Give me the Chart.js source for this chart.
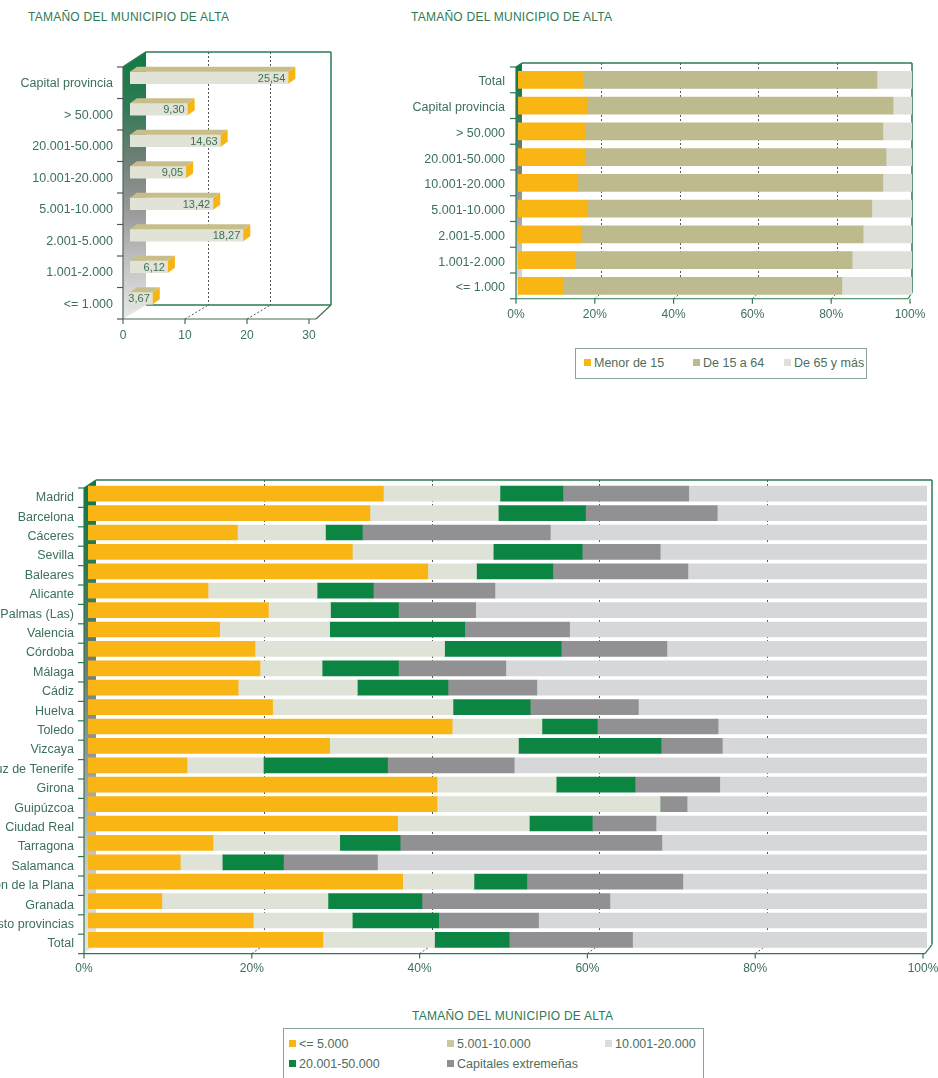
<!DOCTYPE html>
<html><head><meta charset="utf-8">
<script src="https://cdn.jsdelivr.net/npm/chart.js@4"></script>
<style>
body{margin:0;background:#fff;width:938px;height:1078px;overflow:hidden;position:relative;font-family:"Liberation Sans",Arial,sans-serif;}
.title{position:absolute;font-size:12px;color:#2f7a55;letter-spacing:0.25px;white-space:nowrap;line-height:14px;}
canvas{position:absolute;}
.legend{position:absolute;border:1px solid #8aa595;background:#fff;}
.li{position:absolute;font-size:12.5px;color:#4f6d5b;white-space:nowrap;line-height:14px;}
.sw{display:inline-block;width:7px;height:7px;margin-right:3px;vertical-align:1px;}
</style></head><body>
<div class="title" style="left:28px;top:10px">TAMAÑO DEL MUNICIPIO DE ALTA</div>
<div class="title" style="left:411px;top:10px">TAMAÑO DEL MUNICIPIO DE ALTA</div>
<canvas id="c1" width="340" height="310" style="left:0;top:40px"></canvas>
<canvas id="c2" width="538" height="300" style="left:400px;top:40px"></canvas>
<div class="legend" style="left:575px;top:348px;width:290px;height:29px">
  <div class="li" style="left:8px;top:7px"><span class="sw" style="background:#f8b514"></span>Menor de 15</div>
  <div class="li" style="left:117px;top:7px"><span class="sw" style="background:#bdba8d"></span>De 15 a 64</div>
  <div class="li" style="left:208px;top:7px"><span class="sw" style="background:#dedfd8"></span>De 65 y más</div>
</div>
<canvas id="c3" width="938" height="510" style="left:0;top:470px"></canvas>
<div class="title" style="left:412px;top:1009px">TAMAÑO DEL MUNICIPIO DE ALTA</div>
<div class="legend" style="left:283px;top:1028px;width:419px;height:70px">
  <div class="li" style="left:5px;top:8px"><span class="sw" style="background:#f8b514"></span>&lt;= 5.000</div>
  <div class="li" style="left:163px;top:8px"><span class="sw" style="background:#c9c79f"></span>5.001-10.000</div>
  <div class="li" style="left:321px;top:8px"><span class="sw" style="background:#dcdcdc"></span>10.001-20.000</div>
  <div class="li" style="left:5px;top:28px"><span class="sw" style="background:#0d8542"></span>20.001-50.000</div>
  <div class="li" style="left:163px;top:28px"><span class="sw" style="background:#8f8f92"></span>Capitales extremeñas</div>
</div>
<script>
// ---------- DATA ----------
const sizeCategories = ['Capital provincia','> 50.000','20.001-50.000','10.001-20.000','5.001-10.000','2.001-5.000','1.001-2.000','<= 1.000'];
const sizeShares = [25.54, 9.30, 14.63, 9.05, 13.42, 18.27, 6.12, 3.67];
const sizeTickLabels = ['0','10','20','30'];

const ageCategories = ['Total','Capital provincia','> 50.000','20.001-50.000','10.001-20.000','5.001-10.000','2.001-5.000','1.001-2.000','<= 1.000'];
const ageUnder15 = [16.5, 17.5, 17.0, 17.0, 15.2, 17.5, 16.2, 14.5, 11.4];
const age15to64 = [74.6, 77.7, 75.6, 76.4, 77.4, 72.3, 71.4, 70.3, 70.8];
const age65plus = [8.9, 4.8, 7.4, 6.6, 7.4, 10.2, 12.4, 15.2, 17.8];
const pctTickLabels = ['0%','20%','40%','60%','80%','100%'];

const provinces = ['Madrid','Barcelona','Cáceres','Sevilla','Baleares','Alicante','Palmas (Las)','Valencia','Córdoba','Málaga','Cádiz','Huelva','Toledo','Vizcaya','Santa Cruz de Tenerife','Girona','Guipúzcoa','Ciudad Real','Tarragona','Salamanca','Castellón de la Plana','Granada','Resto provincias','Total'];
const upTo5000 = [35.2,33.6,17.8,31.5,40.5,14.3,21.5,15.7,19.9,20.5,17.9,22.0,43.4,28.8,11.8,41.6,41.6,36.9,14.9,11.0,37.5,8.8,19.7,28.0];
const from5001to10000 = [13.9,15.3,10.5,16.8,5.8,13.0,7.4,13.1,22.6,7.4,14.2,21.5,10.7,22.5,9.1,14.2,26.6,15.7,15.1,5.0,8.5,19.8,11.8,13.3];
const from20001to50000 = [7.5,10.4,4.4,10.6,9.1,6.7,8.1,16.1,13.9,9.1,10.8,9.2,6.6,17.0,14.8,9.4,0,7.5,7.2,7.3,6.3,11.2,10.3,8.9];
const capitalesExtremenas = [15.0,15.7,22.4,9.3,16.1,14.5,9.2,12.5,12.6,12.8,10.6,12.9,14.4,7.3,15.1,10.1,3.2,7.6,31.2,11.2,18.6,22.4,11.9,14.7];
const from10001to20000 = [28.4,25.0,44.9,31.8,28.5,51.5,53.8,42.6,31.0,50.2,46.5,34.4,24.9,24.4,49.2,24.7,28.6,32.3,31.6,65.5,29.1,37.8,46.3,35.1];

// ---------- STYLE ----------
Chart.defaults.font.family = '"Liberation Sans", Arial, sans-serif';
Chart.defaults.color = '#3c7058';
Chart.defaults.animation = false;
const TXT = '#3c7058', FRAME = '#2a7a52';
const wallStops = [[0,'#0d7a44'],[0.2,'#2f7a55'],[0.4,'#6f7f77'],[0.6,'#9a9a9a'],[0.8,'#c4c4c4'],[1,'#e8e8e8']];

function line(ctx,x0,y0,x1,y1){ctx.beginPath();ctx.moveTo(x0,y0);ctx.lineTo(x1,y1);ctx.stroke();}
function poly(ctx,pts){ctx.beginPath();ctx.moveTo(pts[0][0],pts[0][1]);for(let i=1;i<pts.length;i++)ctx.lineTo(pts[i][0],pts[i][1]);ctx.closePath();ctx.fill();}
function wall(ctx,x0,x1,yTF,yTB,yBB,yBF){
  const g=ctx.createLinearGradient(0,yTB,0,yBF);
  wallStops.forEach(s=>g.addColorStop(s[0],s[1]));
  ctx.fillStyle=g; poly(ctx,[[x0,yTF],[x1,yTB],[x1,yBB],[x0,yBF]]);
}
// generic 3D box decoration
function boxDeco(id, o){
  return {
    id,
    beforeDatasetsDraw(chart){
      const {ctx, chartArea:a, scales:{x}} = chart;
      const n = chart.data.labels.length;
      ctx.save();
      const bL = x.getPixelForValue(o.min)+o.back, bR = x.getPixelForValue(o.max)+o.backR;
      const bT = a.top-o.topUp, bB = a.bottom-o.botUp;
      const fY = a.bottom+o.frontDown, fL = x.getPixelForValue(o.min)-o.frontLeft, fR = x.getPixelForValue(o.max)-o.frontRightIn;
      wall(ctx,fL,bL,a.top+o.frontDown,bT,bB,fY);
      ctx.setLineDash([2,2]); ctx.strokeStyle='#555'; ctx.lineWidth=1;
      o.grid.forEach(v=>{const px=Math.round(x.getPixelForValue(v)+o.back)+0.5; line(ctx,px,bT,px,bB); line(ctx,x.getPixelForValue(v)-o.frontLeft,fY,px,bB);});
      ctx.setLineDash([]);
      ctx.strokeStyle=FRAME; ctx.lineWidth=1.5;
      line(ctx,bL,bT,bR,bT); line(ctx,bR,bT,bR,bB); line(ctx,fL,a.top+o.frontDown,bL,bT);
      if(o.backBottom) line(ctx,bL,bB,bR,bB);
      ctx.strokeStyle=o.axisColor; ctx.lineWidth=1.2;
      line(ctx,fL,fY,fR,fY); line(ctx,fR,fY,bR,bB); line(ctx,fL,a.top+o.frontDown,fL,fY);
      o.ticks.forEach(v=>{const px=x.getPixelForValue(v)-o.frontLeft; line(ctx,px,fY,px,fY+5);});
      ctx.strokeStyle=o.catTickColor; ctx.lineWidth=1.2;
      for(let i=0;i<=n;i++){const yb=a.top+i*a.height/n+o.frontDown; line(ctx,fL-6,yb,fL,yb);}
      ctx.restore();
    }
  };
}

// ---------- CHART 1 ----------
const deco1 = boxDeco('deco1',{min:0,max:30,back:16,backR:15,topUp:10,botUp:9,frontDown:5,frontLeft:7,frontRightIn:0,grid:[10,20],ticks:[0,10,20,30],axisColor:'#4a6b58',catTickColor:'#555',backBottom:true});
const bars3d = {
  id:'bars3d',
  afterDatasetsDraw(chart){
    const ctx=chart.ctx; ctx.save();
    chart.getDatasetMeta(0).data.forEach((bar,i)=>{
      const p=bar.getProps(['x','y','base','height'],true);
      const top=p.y-p.height/2, bot=p.y+p.height/2, dx=7, dy=5, x0=p.base, x1=p.x;
      ctx.fillStyle='#c8be8a'; poly(ctx,[[x0,top],[x0+dx,top-dy],[x1+dx,top-dy],[x1,top]]);
      ctx.fillStyle='#f6b417'; poly(ctx,[[x1,top],[x1+dx,top-dy],[x1+dx,bot-dy],[x1,bot]]);
      ctx.fillStyle=TXT; ctx.font='11px "Liberation Sans", Arial, sans-serif';
      ctx.textAlign='right'; ctx.textBaseline='middle';
      ctx.fillText(sizeShares[i].toFixed(2).replace('.',','), x1-3, p.y+1);
    });
    ctx.restore();
  }
};
new Chart(document.getElementById('c1'),{
  type:'bar',
  data:{labels:sizeCategories,datasets:[{data:sizeShares,backgroundColor:'#e0e3d5',barThickness:12}]},
  options:{
    indexAxis:'y',responsive:false,
    layout:{padding:{top:22,right:24,left:0,bottom:0}},
    plugins:{legend:{display:false},tooltip:{enabled:false}},
    scales:{
      x:{min:0,max:30,grid:{display:false,drawTicks:false},border:{display:false},
         ticks:{stepSize:10,padding:14,labelOffset:-7,font:{size:12},color:TXT,callback:(v,i)=>sizeTickLabels[i]},
         afterFit(s){s.height=36;s.paddingLeft=0;s.paddingRight=0;}},
      y:{grid:{display:false,drawTicks:false},border:{display:false},
         ticks:{padding:17,labelOffset:6,font:{size:12.5},color:TXT},
         afterFit(s){s.width=130;s.paddingTop=0;s.paddingBottom=0;}}
    }
  },
  plugins:[deco1,bars3d]
});

// ---------- CHART 2 ----------
const deco2 = boxDeco('deco2',{min:0,max:100,back:4,backR:0,topUp:4,botUp:6,frontDown:0,frontLeft:2,frontRightIn:4,grid:[20,40,60,80],ticks:[0,20,40,60,80,100],axisColor:FRAME,catTickColor:FRAME,backBottom:false});
new Chart(document.getElementById('c2'),{
  type:'bar',
  data:{labels:ageCategories,datasets:[
    {label:'Menor de 15',data:ageUnder15,backgroundColor:'#f8b514'},
    {label:'De 15 a 64',data:age15to64,backgroundColor:'#bdba8d'},
    {label:'De 65 y más',data:age65plus,backgroundColor:'#dedfd8'}
  ]},
  options:{
    indexAxis:'y',responsive:false,
    datasets:{bar:{barThickness:17}},
    layout:{padding:{top:27,right:26,left:0,bottom:0}},
    plugins:{legend:{display:false},tooltip:{enabled:false}},
    scales:{
      x:{stacked:true,min:0,max:100,grid:{display:false,drawTicks:false},border:{display:false},
         ticks:{stepSize:20,padding:9,labelOffset:-2,font:{size:12},color:TXT,callback:(v,i)=>pctTickLabels[i]},
         afterFit(s){s.height=41.25;s.paddingLeft=0;s.paddingRight=0;}},
      y:{stacked:true,grid:{display:false,drawTicks:false},border:{display:false},
         ticks:{padding:13,labelOffset:2,font:{size:12.5},color:TXT},
         afterFit(s){s.width=118;s.paddingTop=0;s.paddingBottom=0;}}
    }
  },
  plugins:[deco2]
});

// ---------- CHART 3 ----------
const deco3 = boxDeco('deco3',{min:0,max:100,back:8,backR:5,topUp:4,botUp:5,frontDown:4,frontLeft:4,frontRightIn:2,grid:[20,40,60,80],ticks:[0,20,40,60,80,100],axisColor:FRAME,catTickColor:FRAME,backBottom:false});
new Chart(document.getElementById('c3'),{
  type:'bar',
  data:{labels:provinces,datasets:[
    {label:'<= 5.000',data:upTo5000,backgroundColor:'#f8b514'},
    {label:'5.001-10.000',data:from5001to10000,backgroundColor:'#dfe3d7'},
    {label:'20.001-50.000',data:from20001to50000,backgroundColor:'#0d8542'},
    {label:'Capitales extremeñas',data:capitalesExtremenas,backgroundColor:'#919194'},
    {label:'10.001-20.000',data:from10001to20000,backgroundColor:'#d6d7d9'}
  ]},
  options:{
    indexAxis:'y',responsive:false,
    datasets:{bar:{barThickness:15}},
    layout:{padding:{top:14,right:11,left:0,bottom:0}},
    plugins:{legend:{display:false},tooltip:{enabled:false}},
    scales:{
      x:{stacked:true,min:0,max:100,grid:{display:false,drawTicks:false},border:{display:false},
         ticks:{stepSize:20,padding:12,labelOffset:-4,font:{size:12},color:TXT,callback:(v,i)=>pctTickLabels[i]},
         afterFit(s){s.height=30.4;s.paddingLeft=0;s.paddingRight=0;}},
      y:{stacked:true,grid:{display:false,drawTicks:false},border:{display:false},
         ticks:{padding:14,labelOffset:4,font:{size:12.5},color:TXT,autoSkip:false},
         afterFit(s){s.width=88;s.paddingTop=0;s.paddingBottom=0;}}
    }
  },
  plugins:[deco3]
});
</script>
</body></html>
